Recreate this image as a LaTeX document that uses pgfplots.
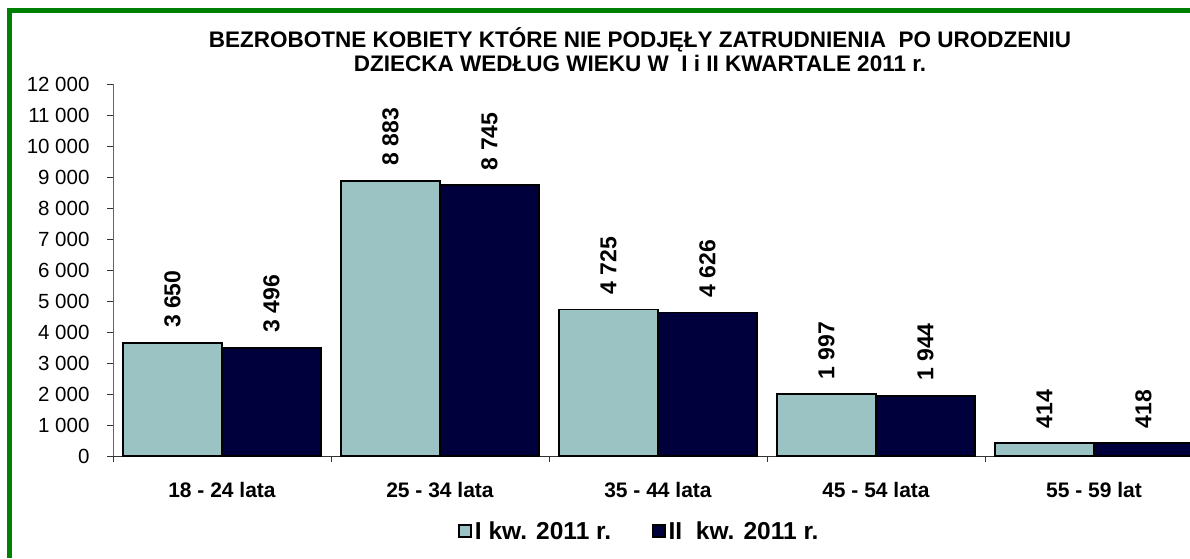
\documentclass[border=0pt]{standalone}
\usepackage{pgfplots}
\pgfplotsset{compat=1.18}
\usepackage{fontspec}
\setmainfont{Liberation Sans}
\definecolor{lightteal}{RGB}{155,195,195}
\definecolor{navy}{RGB}{0,0,60}
\definecolor{framegreen}{RGB}{0,128,0}
\begin{document}
\begin{tikzpicture}[x=1pt,y=1pt]
\path[use as bounding box] (0,0) rectangle (1190,558);
\draw[framegreen, line width=5pt] (9.5,0) -- (9.5,547) -- (1192,547);
\node[font=\fontsize{22.5}{24}\selectfont\bfseries, align=center] at (640,508)
  {BEZROBOTNE KOBIETY KTÓRE NIE PODJĘŁY ZATRUDNIENIA\ \ PO URODZENIU\\DZIECKA WEDŁUG WIEKU W\ \ I i II KWARTALE 2011 r.};
\begin{axis}[
  at={(113pt,102pt)}, anchor=south west,
  scale only axis, width=1090pt, height=372pt,
  xmin=-0.5, xmax=4.5, ymin=0, ymax=12000,
  ybar=0pt, bar width=99pt,
  axis x line*=bottom, axis y line*=left,
  x axis line style={black!80, line width=0.8pt},
  y axis line style={black!60, line width=0.8pt},
  ytick={0,1000,...,12000},
  scaled y ticks=false,
  /pgf/number format/assume math mode=true,
  /pgf/number format/1000 sep={\ },
  tick align=outside, major tick length=6pt,
  tick style={black!80, line width=0.8pt},
  yticklabel style={font=\fontsize{20.5}{24}\selectfont, xshift=-14pt},
  xtick={-0.5,0.5,...,4.5}, xticklabels={},
  extra x ticks={0,1,2,3,4},
  extra x tick labels={18 - 24 lata,25 - 34 lata,35 - 44 lata,45 - 54 lata,55 - 59 lat},
  extra x tick style={major tick length=0pt, tick label style={font=\fontsize{21}{24}\selectfont\bfseries, yshift=-23pt}},
  nodes near coords,
  nodes near coords style={rotate=90, anchor=west, font=\fontsize{23}{26}\selectfont\bfseries, inner xsep=14pt, inner ysep=0pt, black},
  legend style={at={(0.4835,-0.2016)}, anchor=center, draw=none, fill=none,
    legend columns=2, font=\fontsize{24.5}{28}\selectfont\bfseries,
    /tikz/every even column/.append style={column sep=38pt},
    nodes={inner xsep=3pt}},
  clip=false,
]
\addplot[fill=lightteal, draw=black, line width=1.8pt,
  legend image code/.code={\draw[fill=lightteal,draw=black,line width=1.5pt] (0pt,-6pt) rectangle (12pt,6pt);}]
  coordinates {(0,3650) (1,8883) (2,4725) (3,1997) (4,414)};
\addplot[fill=navy, draw=black, line width=1.8pt,
  legend image code/.code={\draw[fill=navy,draw=black,line width=1.5pt] (0pt,-6pt) rectangle (12pt,6pt);}]
  coordinates {(0,3496) (1,8745) (2,4626) (3,1944) (4,418)};
\legend{I kw. 2011 r.,II\ \ kw. 2011 r.}
\end{axis}
\end{tikzpicture}
\end{document}
